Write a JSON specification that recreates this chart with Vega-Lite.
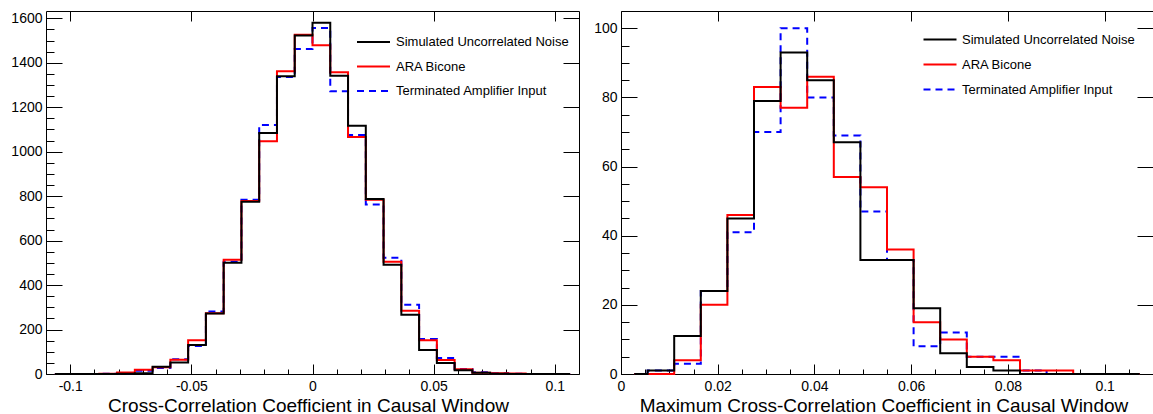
{
  "$schema": "https://vega.github.io/schema/vega-lite/v6.json",
  "background": "white",
  "padding": {"left": 5, "top": 10, "right": 0, "bottom": 0},
  "bounds": "flush",
  "spacing": 42,
  "hconcat": [
    {
      "width": 533,
      "height": 363,
      "data": {"values": [
        {"x": -0.106333, "noise": 0, "bicone": 0, "term": 0},
        {"x": -0.099, "noise": 0, "bicone": 0, "term": 0},
        {"x": -0.091667, "noise": 0, "bicone": 0, "term": 0},
        {"x": -0.084333, "noise": 0, "bicone": 1, "term": 1},
        {"x": -0.077, "noise": 1, "bicone": 7, "term": 3},
        {"x": -0.069667, "noise": 3, "bicone": 19, "term": 15},
        {"x": -0.062333, "noise": 33, "bicone": 30, "term": 27},
        {"x": -0.055, "noise": 52, "bicone": 64, "term": 66},
        {"x": -0.047667, "noise": 130, "bicone": 152, "term": 126},
        {"x": -0.040333, "noise": 272, "bicone": 273, "term": 281},
        {"x": -0.033, "noise": 500, "bicone": 514, "term": 505},
        {"x": -0.025667, "noise": 775, "bicone": 778, "term": 784},
        {"x": -0.018333, "noise": 1084, "bicone": 1047, "term": 1120},
        {"x": -0.011, "noise": 1339, "bicone": 1362, "term": 1336},
        {"x": -0.003667, "noise": 1523, "bicone": 1526, "term": 1462},
        {"x": 0.003667, "noise": 1580, "bicone": 1479, "term": 1556},
        {"x": 0.011, "noise": 1342, "bicone": 1357, "term": 1272},
        {"x": 0.018333, "noise": 1117, "bicone": 1066, "term": 1075},
        {"x": 0.025667, "noise": 787, "bicone": 784, "term": 763},
        {"x": 0.033, "noise": 491, "bicone": 505, "term": 523},
        {"x": 0.040333, "noise": 266, "bicone": 284, "term": 311},
        {"x": 0.047667, "noise": 108, "bicone": 152, "term": 157},
        {"x": 0.055, "noise": 50, "bicone": 63, "term": 72},
        {"x": 0.062333, "noise": 17, "bicone": 21, "term": 22},
        {"x": 0.069667, "noise": 6, "bicone": 6, "term": 8},
        {"x": 0.077, "noise": 1, "bicone": 3, "term": 3},
        {"x": 0.084333, "noise": 0, "bicone": 2, "term": 1},
        {"x": 0.091667, "noise": 0, "bicone": 0, "term": 0},
        {"x": 0.099, "noise": 0, "bicone": 0, "term": 0},
        {"x": 0.106333, "noise": 0, "bicone": 0, "term": 0}
      ]},
      "layer": [
        {
          "mark": {"type": "line", "interpolate": "step", "strokeWidth": 2, "strokeCap": "butt", "strokeDash": [7, 5]},
          "encoding": {
            "x": {"field": "x", "type": "quantitative", "scale": {"domain": [-0.11, 0.11], "nice": false, "zero": false},
              "axis": {"orient": "bottom", "values": [-0.1, -0.05, 0, 0.05, 0.1], "ticks": true, "tickSize": -10, "labelPadding": 15.5, "labelExpr": "'' + datum.value",
                "labelFont": "Liberation Sans", "labelFontSize": 14, "labelFlush": false,
                "title": "Cross-Correlation Coefficient in Causal Window", "titleFont": "Liberation Sans", "titleFontSize": 19, "titleFontWeight": "normal", "titleColor": "#000000",
                "titleBaseline": "alphabetic", "titlePadding": 18, "titleX": 262}},
            "y": {"field": "term", "type": "quantitative", "scale": {"domain": [0, 1633], "nice": false, "zero": true},
              "axis": {"orient": "left", "values": [0, 200, 400, 600, 800, 1000, 1200, 1400, 1600], "ticks": true, "tickSize": -16, "labelPadding": 20, "labelExpr": "'' + datum.value",
                "labelFont": "Liberation Sans", "labelFontSize": 14, "title": null, "minExtent": 40, "maxExtent": 40}},
            "color": {"datum": "Terminated Amplifier Input",
              "scale": {"domain": ["Simulated Uncorrelated Noise", "ARA Bicone", "Terminated Amplifier Input"], "range": ["#000000", "#ff0000", "#0000ff"]},
              "legend": {"orient": "none", "legendX": 321, "legendY": 24.5, "title": null, "symbolType": "M-3,0H3", "symbolSize": 121, "symbolStrokeWidth": 2, "labelFontSize": 13, "labelFont": "Liberation Sans", "labelColor": "#000", "labelOffset": 16, "labelLimit": 0, "rowPadding": 10.5, "padding": 0,
                "encode": {"symbols": {"update": {"strokeDash": {"signal": "datum.value === 'Terminated Amplifier Input' ? [7, 5] : [1, 0]"}}}}}}
          }
        },
        {
          "mark": {"type": "line", "interpolate": "step", "strokeWidth": 2, "strokeCap": "butt"},
          "encoding": {
            "x": {"field": "x", "type": "quantitative", "scale": {"domain": [-0.11, 0.11], "nice": false, "zero": false},
              "axis": {"orient": "top", "values": [-0.1, -0.05, 0, 0.05, 0.1], "labels": false, "ticks": true, "tickSize": 10, "offset": -10, "title": null}},
            "y": {"field": "bicone", "type": "quantitative", "scale": {"domain": [0, 1633], "nice": false, "zero": true},
              "axis": {"orient": "right", "values": [0, 200, 400, 600, 800, 1000, 1200, 1400, 1600], "labels": false, "ticks": true, "tickSize": 16, "offset": -16, "title": null}},
            "color": {"datum": "ARA Bicone",
              "scale": {"domain": ["Simulated Uncorrelated Noise", "ARA Bicone", "Terminated Amplifier Input"], "range": ["#000000", "#ff0000", "#0000ff"]},
              "legend": {"orient": "none", "legendX": 321, "legendY": 24.5, "title": null, "symbolType": "M-3,0H3", "symbolSize": 121, "symbolStrokeWidth": 2, "labelFontSize": 13, "labelFont": "Liberation Sans", "labelColor": "#000", "labelOffset": 16, "labelLimit": 0, "rowPadding": 10.5, "padding": 0,
                "encode": {"symbols": {"update": {"strokeDash": {"signal": "datum.value === 'Terminated Amplifier Input' ? [7, 5] : [1, 0]"}}}}}}
          }
        },
        {
          "mark": {"type": "line", "interpolate": "step", "strokeWidth": 2, "strokeCap": "butt"},
          "encoding": {
            "x": {"field": "x", "type": "quantitative", "scale": {"domain": [-0.11, 0.11], "nice": false, "zero": false},
              "axis": {"orient": "bottom", "values": [-0.1, -0.09, -0.08, -0.07, -0.06, -0.05, -0.04, -0.03, -0.02, -0.01, 0, 0.01, 0.02, 0.03, 0.04, 0.05, 0.06, 0.07, 0.08, 0.09, 0.1], "labels": false, "ticks": true, "tickSize": -5, "title": null}},
            "y": {"field": "noise", "type": "quantitative", "scale": {"domain": [0, 1633], "nice": false, "zero": true},
              "axis": {"orient": "left", "values": [0, 50, 100, 150, 200, 250, 300, 350, 400, 450, 500, 550, 600, 650, 700, 750, 800, 850, 900, 950, 1000, 1050, 1100, 1150, 1200, 1250, 1300, 1350, 1400, 1450, 1500, 1550, 1600], "labels": false, "ticks": true, "tickSize": -8, "title": null}},
            "color": {"datum": "Simulated Uncorrelated Noise",
              "scale": {"domain": ["Simulated Uncorrelated Noise", "ARA Bicone", "Terminated Amplifier Input"], "range": ["#000000", "#ff0000", "#0000ff"]},
              "legend": {"orient": "none", "legendX": 321, "legendY": 24.5, "title": null, "symbolType": "M-3,0H3", "symbolSize": 121, "symbolStrokeWidth": 2, "labelFontSize": 13, "labelFont": "Liberation Sans", "labelColor": "#000", "labelOffset": 16, "labelLimit": 0, "rowPadding": 10.5, "padding": 0,
                "encode": {"symbols": {"update": {"strokeDash": {"signal": "datum.value === 'Terminated Amplifier Input' ? [7, 5] : [1, 0]"}}}}}}
          }
        }
      ],
      "resolve": {"axis": {"x": "independent", "y": "independent"}}
    },
    {
      "width": 532,
      "height": 363,
      "data": {"values": [
        {"x": 0.00275, "noise": 0, "bicone": 0, "term": 0},
        {"x": 0.00825, "noise": 1, "bicone": 0, "term": 1},
        {"x": 0.01375, "noise": 11, "bicone": 4, "term": 3},
        {"x": 0.01925, "noise": 24, "bicone": 20, "term": 24},
        {"x": 0.02475, "noise": 45, "bicone": 46, "term": 41},
        {"x": 0.03025, "noise": 79, "bicone": 83, "term": 70},
        {"x": 0.03575, "noise": 93, "bicone": 77, "term": 100},
        {"x": 0.04125, "noise": 85, "bicone": 86, "term": 80},
        {"x": 0.04675, "noise": 67, "bicone": 57, "term": 69},
        {"x": 0.05225, "noise": 33, "bicone": 54, "term": 47},
        {"x": 0.05775, "noise": 33, "bicone": 36, "term": 33},
        {"x": 0.06325, "noise": 19, "bicone": 15, "term": 8},
        {"x": 0.06875, "noise": 6, "bicone": 10, "term": 12},
        {"x": 0.07425, "noise": 2, "bicone": 5, "term": 5},
        {"x": 0.07975, "noise": 1, "bicone": 4, "term": 5},
        {"x": 0.08525, "noise": 0, "bicone": 1, "term": 1},
        {"x": 0.09075, "noise": 0, "bicone": 1, "term": 0},
        {"x": 0.09625, "noise": 0, "bicone": 0, "term": 0},
        {"x": 0.10175, "noise": 0, "bicone": 0, "term": 0},
        {"x": 0.10725, "noise": 0, "bicone": 0, "term": 0}
      ]},
      "layer": [
        {
          "mark": {"type": "line", "interpolate": "step", "strokeWidth": 2, "strokeCap": "butt", "strokeDash": [7, 5]},
          "encoding": {
            "x": {"field": "x", "type": "quantitative", "scale": {"domain": [0, 0.11], "nice": false, "zero": false},
              "axis": {"orient": "bottom", "values": [0, 0.02, 0.04, 0.06, 0.08, 0.1], "ticks": true, "tickSize": -10, "labelPadding": 15.5, "labelExpr": "'' + datum.value",
                "labelFont": "Liberation Sans", "labelFontSize": 14, "labelFlush": false,
                "title": "Maximum Cross-Correlation Coefficient in Causal Window", "titleFont": "Liberation Sans", "titleFontSize": 19, "titleFontWeight": "normal", "titleColor": "#000000",
                "titleBaseline": "alphabetic", "titlePadding": 18, "titleX": 262.5}},
            "y": {"field": "term", "type": "quantitative", "scale": {"domain": [0, 105], "nice": false, "zero": true},
              "axis": {"orient": "left", "values": [0, 20, 40, 60, 80, 100], "ticks": true, "tickSize": -16, "labelPadding": 20, "labelExpr": "'' + datum.value",
                "labelFont": "Liberation Sans", "labelFontSize": 14, "title": null}},
            "color": {"datum": "Terminated Amplifier Input",
              "scale": {"domain": ["Simulated Uncorrelated Noise", "ARA Bicone", "Terminated Amplifier Input"], "range": ["#000000", "#ff0000", "#0000ff"]},
              "legend": {"orient": "none", "legendX": 312.5, "legendY": 22.1, "title": null, "symbolType": "M-3,0H3", "symbolSize": 121, "symbolStrokeWidth": 2, "labelFontSize": 13, "labelFont": "Liberation Sans", "labelColor": "#000", "labelOffset": 15.5, "labelLimit": 0, "rowPadding": 11, "padding": 0,
                "encode": {"symbols": {"update": {"strokeDash": {"signal": "datum.value === 'Terminated Amplifier Input' ? [7, 5] : [1, 0]"}}}}}}
          }
        },
        {
          "mark": {"type": "line", "interpolate": "step", "strokeWidth": 2, "strokeCap": "butt"},
          "encoding": {
            "x": {"field": "x", "type": "quantitative", "scale": {"domain": [0, 0.11], "nice": false, "zero": false},
              "axis": {"orient": "top", "values": [0, 0.02, 0.04, 0.06, 0.08, 0.1], "labels": false, "ticks": true, "tickSize": 10, "offset": -10, "title": null}},
            "y": {"field": "bicone", "type": "quantitative", "scale": {"domain": [0, 105], "nice": false, "zero": true},
              "axis": {"orient": "right", "values": [0, 20, 40, 60, 80, 100], "labels": false, "ticks": true, "tickSize": 16, "offset": -16, "title": null}},
            "color": {"datum": "ARA Bicone",
              "scale": {"domain": ["Simulated Uncorrelated Noise", "ARA Bicone", "Terminated Amplifier Input"], "range": ["#000000", "#ff0000", "#0000ff"]},
              "legend": {"orient": "none", "legendX": 312.5, "legendY": 22.1, "title": null, "symbolType": "M-3,0H3", "symbolSize": 121, "symbolStrokeWidth": 2, "labelFontSize": 13, "labelFont": "Liberation Sans", "labelColor": "#000", "labelOffset": 15.5, "labelLimit": 0, "rowPadding": 11, "padding": 0,
                "encode": {"symbols": {"update": {"strokeDash": {"signal": "datum.value === 'Terminated Amplifier Input' ? [7, 5] : [1, 0]"}}}}}}
          }
        },
        {
          "mark": {"type": "line", "interpolate": "step", "strokeWidth": 2, "strokeCap": "butt"},
          "encoding": {
            "x": {"field": "x", "type": "quantitative", "scale": {"domain": [0, 0.11], "nice": false, "zero": false},
              "axis": {"orient": "bottom", "values": [0, 0.005, 0.01, 0.015, 0.02, 0.025, 0.03, 0.035, 0.04, 0.045, 0.05, 0.055, 0.06, 0.065, 0.07, 0.075, 0.08, 0.085, 0.09, 0.095, 0.1, 0.105], "labels": false, "ticks": true, "tickSize": -5, "title": null}},
            "y": {"field": "noise", "type": "quantitative", "scale": {"domain": [0, 105], "nice": false, "zero": true},
              "axis": {"orient": "left", "values": [0, 5, 10, 15, 20, 25, 30, 35, 40, 45, 50, 55, 60, 65, 70, 75, 80, 85, 90, 95, 100], "labels": false, "ticks": true, "tickSize": -8, "title": null}},
            "color": {"datum": "Simulated Uncorrelated Noise",
              "scale": {"domain": ["Simulated Uncorrelated Noise", "ARA Bicone", "Terminated Amplifier Input"], "range": ["#000000", "#ff0000", "#0000ff"]},
              "legend": {"orient": "none", "legendX": 312.5, "legendY": 22.1, "title": null, "symbolType": "M-3,0H3", "symbolSize": 121, "symbolStrokeWidth": 2, "labelFontSize": 13, "labelFont": "Liberation Sans", "labelColor": "#000", "labelOffset": 15.5, "labelLimit": 0, "rowPadding": 11, "padding": 0,
                "encode": {"symbols": {"update": {"strokeDash": {"signal": "datum.value === 'Terminated Amplifier Input' ? [7, 5] : [1, 0]"}}}}}}
          }
        }
      ],
      "resolve": {"axis": {"x": "independent", "y": "independent"}}
    }
  ],
  "resolve": {
    "scale": {"color": "independent"},
    "legend": {"color": "independent"}
  },
  "config": {
    "view": {"stroke": "#000000", "strokeWidth": 1},
    "axis": {"grid": false, "domain": false, "tickColor": "#000000", "labelColor": "#000000"}
  }
}
